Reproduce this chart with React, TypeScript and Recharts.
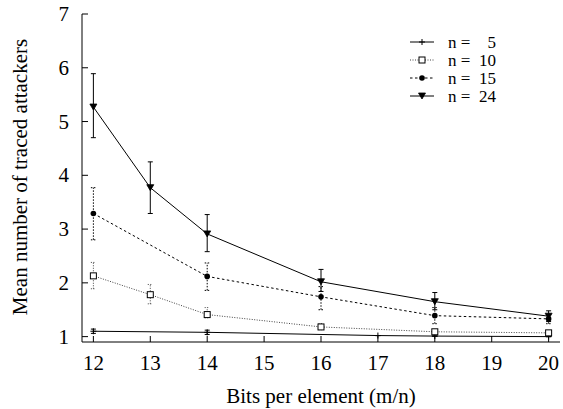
import React from 'react';
import { LineChart, Line, XAxis, YAxis, ErrorBar } from 'recharts';

const xTicks = [12, 13, 14, 15, 16, 17, 18, 19, 20];
const yTicks = [1, 2, 3, 4, 5, 6, 7];

const n5X = [12, 14, 17, 18, 20];
const n5Y = [1.10, 1.08, 1.02, 1.01, 1.00];
const n5Lo = [1.06, 1.04, 1.02, 1.01, 1.00];
const n5Hi = [1.14, 1.12, 1.02, 1.01, 1.00];

const n10X = [12, 13, 14, 16, 18, 20];
const n10Y = [2.13, 1.78, 1.41, 1.18, 1.09, 1.07];
const n10Lo = [1.89, 1.61, 1.35, 1.13, 1.06, 1.05];
const n10Hi = [2.38, 1.97, 1.54, 1.24, 1.13, 1.10];

const n15X = [12, 14, 16, 18, 20];
const n15Y = [3.29, 2.12, 1.74, 1.39, 1.33];
const n15Lo = [2.80, 1.86, 1.50, 1.24, 1.24];
const n15Hi = [3.77, 2.37, 1.93, 1.54, 1.42];

const n24X = [12, 13, 14, 16, 18, 20];
const n24Y = [5.27, 3.77, 2.91, 2.02, 1.65, 1.38];
const n24Lo = [4.70, 3.29, 2.58, 1.84, 1.50, 1.28];
const n24Hi = [5.89, 4.25, 3.27, 2.25, 1.82, 1.48];

const legendLabels = ['n =', 'n =', 'n =', 'n ='];
const legendNums = ['5', '10', '15', '24'];

const build = (xs: number[], ys: number[], lo: number[], hi: number[]) =>
  xs.map((x, i) => ({ x, y: ys[i], err: [ys[i] - lo[i], hi[i] - ys[i]] }));

const d5 = build(n5X, n5Y, n5Lo, n5Hi);
const d10 = build(n10X, n10Y, n10Lo, n10Hi);
const d15 = build(n15X, n15Y, n15Lo, n15Hi);
const d24 = build(n24X, n24Y, n24Lo, n24Hi);

const FONT = 'Liberation Serif, Times New Roman, DejaVu Serif, serif';
const FS = 21;
const TL = 6;
const textStyle: React.CSSProperties = { fontFamily: FONT, fontSize: FS };
const legendText: React.CSSProperties = { fontFamily: FONT, fontSize: 17 };

const Plus = ({ cx, cy }: any) => (
  <g stroke="#000" strokeWidth={1}>
    <line x1={cx - 3} y1={cy} x2={cx + 3} y2={cy} />
    <line x1={cx} y1={cy - 3} x2={cx} y2={cy + 3} />
  </g>
);
const Square = ({ cx, cy }: any) => (
  <rect x={cx - 3} y={cy - 3} width={6} height={6} fill="#fff" stroke="#000" strokeWidth={1} />
);
const Dot = ({ cx, cy }: any) => <circle cx={cx} cy={cy} r={2.8} fill="#000" stroke="none" />;
const Tri = ({ cx, cy }: any) => (
  <polygon points={`${cx - 3.5},${cy - 3} ${cx + 3.5},${cy - 3} ${cx},${cy + 3}`} fill="#000" stroke="#000" strokeWidth={0.8} />
);

const dotFn = (Comp: any) => (props: any) => <Comp key={`${props.index}`} cx={props.cx} cy={props.cy} />;

const BottomTick = (props: any) => {
  const { x, y, payload } = props;
  return (
    <g>
      <line x1={x} y1={y} x2={x} y2={y - TL} stroke="#000" strokeWidth={1} />
      <text x={x} y={y + 28} textAnchor="middle" style={textStyle} fill="#000">
        {payload.value}
      </text>
    </g>
  );
};
const TopTick = (props: any) => {
  const { x, y } = props;
  return <line x1={x} y1={y} x2={x} y2={y + TL} stroke="#000" strokeWidth={1} />;
};
const LeftTick = (props: any) => {
  const { x, y, payload } = props;
  return (
    <g>
      <line x1={x} y1={y} x2={x + TL} y2={y} stroke="#000" strokeWidth={1} />
      <text x={x - 13} y={y + 7} textAnchor="end" style={textStyle} fill="#000">
        {payload.value}
      </text>
    </g>
  );
};
const RightTick = (props: any) => {
  const { x, y } = props;
  return <line x1={x} y1={y} x2={x - TL} y2={y} stroke="#000" strokeWidth={1} />;
};

const legendStyles = [
  { Comp: Plus, dash: undefined, stroke: '#000' },
  { Comp: Square, dash: '1 1.5', stroke: '#444' },
  { Comp: Dot, dash: '2.5 2.5', stroke: '#000' },
  { Comp: Tri, dash: undefined, stroke: '#000' },
];

const LegendBox = () => (
  <svg width={130} height={80} style={{ position: 'absolute', left: 400, top: 30, display: 'block' }}>
    {legendStyles.map((it, i) => {
      const cy = 12 + i * 18;
      const C = it.Comp;
      return (
        <g key={i}>
          <line x1={10} y1={cy} x2={34} y2={cy} stroke={it.stroke} strokeWidth={1} strokeDasharray={it.dash} />
          <C cx={22} cy={cy} />
          <text y={cy + 6} style={legendText} fill="#000">
            <tspan x={48}>{legendLabels[i]}</tspan>
            <tspan x={96} textAnchor="end">{legendNums[i]}</tspan>
          </text>
        </g>
      );
    })}
  </svg>
);

export default function App() {
  return (
    <div style={{ position: 'absolute', left: 0, top: 0, width: 563, height: 409, background: '#fff' }}>
      <LineChart width={563} height={409} margin={{ top: 14, right: 3, left: 0, bottom: 0 }}>
        <XAxis
          xAxisId="b"
          dataKey="x"
          type="number"
          domain={[11.8, 20.2]}
          ticks={xTicks}
          orientation="bottom"
          height={67}
          tickSize={0}
          tickMargin={0}
          tickLine={false}
          axisLine={{ stroke: '#000', strokeWidth: 1 }}
          tick={BottomTick}
          allowDataOverflow
          label={{
            content: () => (
              <text x={321} y={403} textAnchor="middle" style={textStyle} fill="#000">
                Bits per element (m/n)
              </text>
            ),
          }}
        />
        <XAxis
          xAxisId="t"
          dataKey="x"
          type="number"
          domain={[11.8, 20.2]}
          ticks={xTicks}
          orientation="top"
          height={0}
          tickSize={0}
          tickMargin={0}
          tickLine={false}
          axisLine={{ stroke: '#000', strokeWidth: 1 }}
          tick={TopTick}
          allowDataOverflow
        />
        <YAxis
          yAxisId="l"
          type="number"
          domain={[0.9, 7]}
          ticks={yTicks}
          orientation="left"
          width={82}
          tickSize={0}
          tickMargin={0}
          tickLine={false}
          axisLine={{ stroke: '#000', strokeWidth: 1 }}
          tick={LeftTick}
          allowDataOverflow
          label={{
            content: () => (
              <text x={27} y={177} transform="rotate(-90 27 177)" textAnchor="middle" style={textStyle} fill="#000">
                Mean number of traced attackers
              </text>
            ),
          }}
        />
        <YAxis
          yAxisId="r"
          type="number"
          domain={[0.9, 7]}
          ticks={yTicks}
          orientation="right"
          width={0}
          tickSize={0}
          tickMargin={0}
          tickLine={false}
          axisLine={{ stroke: '#000', strokeWidth: 1 }}
          tick={RightTick}
          allowDataOverflow
        />
        <Line
          xAxisId="b" yAxisId="l" data={d5} dataKey="y" type="linear"
          stroke="#000" strokeWidth={1} dot={dotFn(Plus)} isAnimationActive={false} legendType="none"
        >
          <ErrorBar dataKey="err" direction="y" width={2.5} stroke="#000" strokeWidth={1} />
        </Line>
        <Line
          xAxisId="b" yAxisId="l" data={d10} dataKey="y" type="linear"
          stroke="#444" strokeWidth={1} strokeDasharray="1 1.5" dot={dotFn(Square)} isAnimationActive={false} legendType="none"
        >
          <ErrorBar dataKey="err" direction="y" width={2.5} stroke="#444" strokeWidth={1} strokeDasharray="1 1.5" />
        </Line>
        <Line
          xAxisId="b" yAxisId="l" data={d15} dataKey="y" type="linear"
          stroke="#000" strokeWidth={1} strokeDasharray="2.5 2.5" dot={dotFn(Dot)} isAnimationActive={false} legendType="none"
        >
          <ErrorBar dataKey="err" direction="y" width={2.5} stroke="#000" strokeWidth={1} strokeDasharray="1.5 1.5" />
        </Line>
        <Line
          xAxisId="b" yAxisId="l" data={d24} dataKey="y" type="linear"
          stroke="#000" strokeWidth={1} dot={dotFn(Tri)} isAnimationActive={false} legendType="none"
        >
          <ErrorBar dataKey="err" direction="y" width={2.5} stroke="#000" strokeWidth={1} />
        </Line>
      </LineChart>
      <LegendBox />
    </div>
  );
}
